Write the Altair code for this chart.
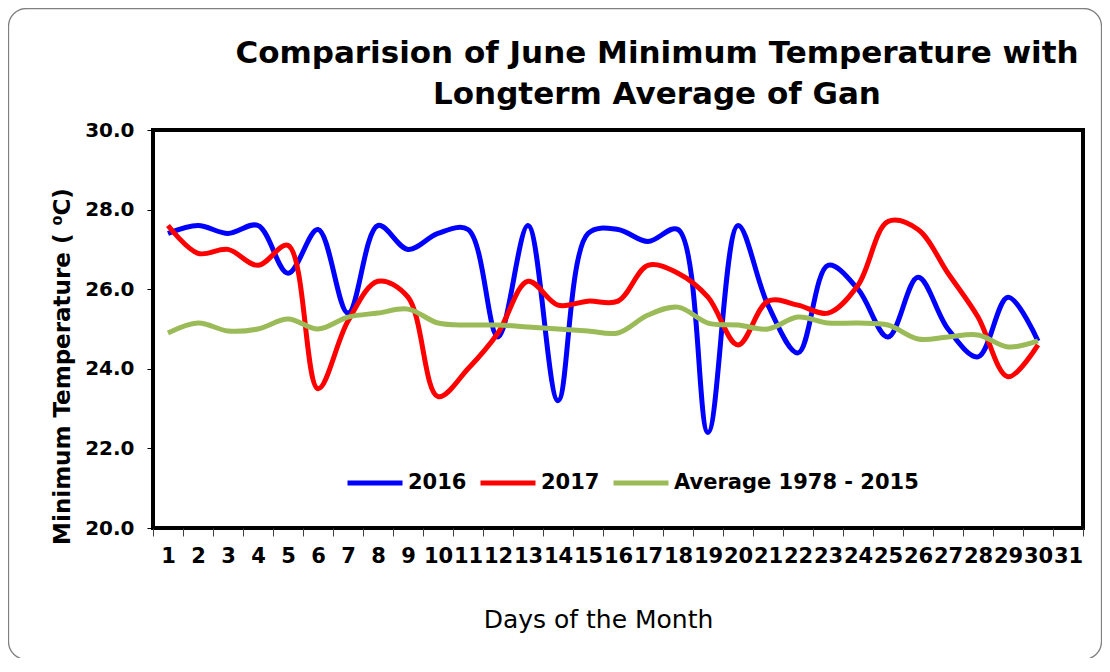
import altair as alt
import pandas as pd

days = [str(d) for d in range(1, 31)]
all_days = [str(d) for d in range(1, 32)]

t2016 = [27.4, 27.6, 27.4, 27.6, 26.4, 27.5, 25.4, 27.6, 27.0, 27.4,
         27.5, 24.8, 27.6, 23.2, 27.4, 27.5, 27.2, 27.5, 22.4, 27.6,
         25.6, 24.4, 26.6, 26.0, 24.8, 26.3, 25.0, 24.3, 25.8, 24.7]
t2017 = [27.6, 26.9, 27.0, 26.6, 27.1, 23.5, 25.2, 26.2, 25.8, 23.3,
         24.0, 24.9, 26.2, 25.6, 25.7, 25.7, 26.6, 26.4, 25.8, 24.6,
         25.7, 25.6, 25.4, 26.1, 27.7, 27.5, 26.4, 25.3, 23.8, 24.6]
avg = [24.9, 25.15, 24.95, 25.0, 25.25, 25.0, 25.3, 25.4, 25.5, 25.15,
       25.1, 25.1, 25.05, 25.0, 24.95, 24.9, 25.35, 25.55, 25.15, 25.1,
       25.0, 25.3, 25.15, 25.15, 25.1, 24.75, 24.8, 24.85, 24.55, 24.7]

series_names = ["2016", "2017", "Average 1978 - 2015"]
series_colors = ["#0000FF", "#FF0000", "#9BBB59"]
y_ticks = [20, 22, 24, 26, 28, 30]
title_lines = ["Comparision of June Minimum Temperature with", "Longterm Average of Gan"]

rows = []
for name, vals in zip(series_names, [t2016, t2017, avg]):
    for d, v in zip(days, vals):
        rows.append({"day": d, "temp": v, "series": name})
df = pd.DataFrame(rows)

FONT = "DejaVu Sans"

lines = alt.Chart(df).mark_line(strokeWidth=5, interpolate="catmull-rom").encode(
    x=alt.X(
        "day:O",
        sort=all_days,
        bandPosition=0.5,
        scale=alt.Scale(type="band", domain=all_days, paddingInner=0, paddingOuter=0),
        axis=alt.Axis(
            title="Days of the Month",
            titleFont=FONT, titleFontSize=25, titleFontWeight="normal", titleColor="black",
            titleX=445, titleY=99, titleAlign="center", titleBaseline="alphabetic",
            labelFont=FONT, labelFontSize=21, labelFontWeight="bold", labelColor="black",
            labelAngle=0, labelPadding=9, labelOverlap=False, labelBound=False,
            tickSize=8, tickColor="#404040", tickWidth=1, tickBand="extent",
            domain=False, grid=False,
        ),
    ),
    y=alt.Y(
        "temp:Q",
        scale=alt.Scale(domain=[20, 30], nice=False, zero=False),
        axis=alt.Axis(
            values=y_ticks, format=".1f",
            title="Minimum Temperature ( \u2070C)",
            titleFont=FONT, titleFontSize=23, titleFontWeight="bold", titleColor="black",
            titleX=-91, titleY=236, titleAngle=-90, titleAlign="center", titleBaseline="middle",
            labelFont=FONT, labelFontSize=20, labelFontWeight="bold", labelColor="black",
            labelPadding=13, tickSize=6, tickColor="black", tickWidth=1,
            domain=False, grid=False,
        ),
    ),
    color=alt.Color(
        "series:N",
        scale=alt.Scale(domain=series_names, range=series_colors),
        legend=alt.Legend(
            title=None, orient="none", legendX=192, legendY=323,
            direction="horizontal", symbolType="stroke", symbolStrokeWidth=5,
            symbolSize=3025, labelFont=FONT, labelFontSize=21, labelFontWeight="bold",
            labelColor="black", columnPadding=3, labelOffset=3, labelLimit=500,
        ),
    ),
)

one_row = pd.DataFrame({"k": [0]})
frame = alt.Chart(one_row).mark_rect(
    fillOpacity=0, stroke="#808080", strokeWidth=1.3, cornerRadius=18
).encode(
    x=alt.value(-144.5), x2=alt.value(948.5),
    y=alt.value(-121.5), y2=alt.value(529.5),
)

title1 = alt.Chart(one_row).mark_text(
    text=title_lines[0], font=FONT, fontSize=31, fontWeight="bold", color="black",
    align="center", baseline="alphabetic",
).encode(x=alt.value(504), y=alt.value(-67))

title2 = alt.Chart(one_row).mark_text(
    text=title_lines[1], font=FONT, fontSize=31, fontWeight="bold", color="black",
    align="center", baseline="alphabetic",
).encode(x=alt.value(504), y=alt.value(-26))

chart = alt.layer(frame, title1, title2, lines).properties(
    width=930,
    height=398,
    autosize=alt.AutoSizeParams(type="none"),
    padding={"left": 145, "top": 122, "right": 19, "bottom": 130},
).configure(
    background="white"
).configure_view(
    stroke="black", strokeWidth=4
)

chart.save("out.html", embed_options={"renderer": "svg", "actions": False})
